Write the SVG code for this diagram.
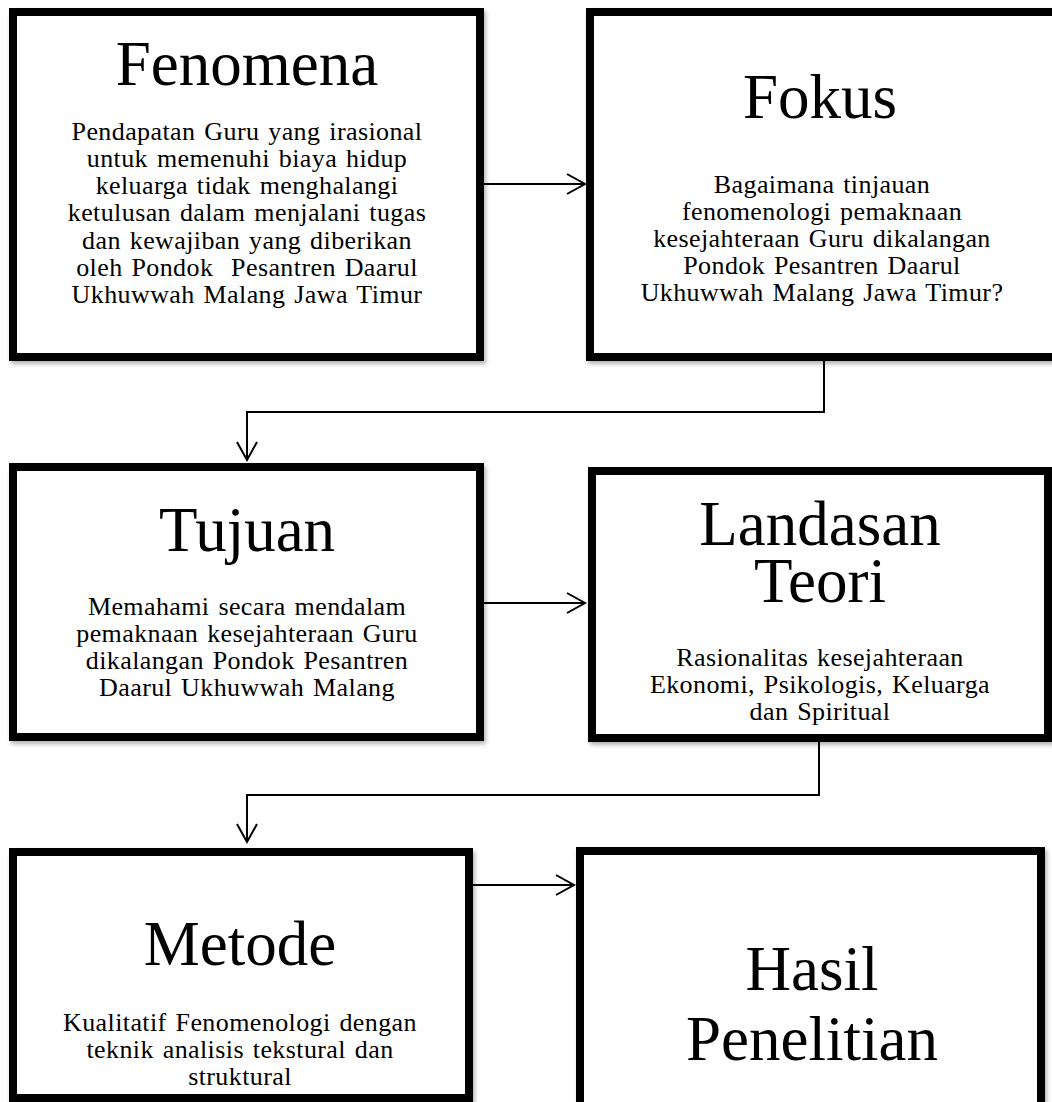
<svg xmlns="http://www.w3.org/2000/svg" width="1052" height="1102" viewBox="0 0 1052 1102">
<defs>
<filter id="sh" x="-5%" y="-5%" width="115%" height="115%">
<feDropShadow dx="2" dy="3" stdDeviation="2" flood-color="#000" flood-opacity="0.3"/>
</filter>
<marker id="ah" markerWidth="22" markerHeight="24" refX="19" refY="11" orient="auto" markerUnits="userSpaceOnUse">
<path d="M1,1 L19,11 L1,21" fill="none" stroke="#000" stroke-width="2"/>
</marker>
<style>
.box{fill:#fff;stroke:#000;stroke-width:8;filter:url(#sh)}
.t{font-family:"Liberation Serif","Times New Roman",serif;fill:#000;text-anchor:middle}
.h{font-size:63px}
.b{font-size:26px;letter-spacing:0.4px;word-spacing:2px}
.c{fill:none;stroke:#000;stroke-width:2}
</style>
</defs>
<rect width="1052" height="1102" fill="#fff"/>
<g id="fenomena">
<rect class="box" x="13" y="12" width="467" height="345"/>
<text class="t h" x="247" y="85">Fenomena</text>
<text class="t b" x="247" y="140">Pendapatan Guru yang irasional</text>
<text class="t b" x="247" y="167">untuk memenuhi biaya hidup</text>
<text class="t b" x="247" y="194">keluarga tidak menghalangi</text>
<text class="t b" x="247" y="221">ketulusan dalam menjalani tugas</text>
<text class="t b" x="247" y="249">dan kewajiban yang diberikan</text>
<text class="t b" x="247" y="276" xml:space="preserve">oleh Pondok  Pesantren Daarul</text>
<text class="t b" x="247" y="303">Ukhuwwah Malang Jawa Timur</text>
</g>
<g id="fokus">
<rect class="box" x="590" y="12" width="480" height="345"/>
<text class="t h" x="820" y="118">Fokus</text>
<text class="t b" x="822" y="193">Bagaimana tinjauan</text>
<text class="t b" x="822" y="220">fenomenologi pemaknaan</text>
<text class="t b" x="822" y="247">kesejahteraan Guru dikalangan</text>
<text class="t b" x="822" y="274">Pondok Pesantren Daarul</text>
<text class="t b" x="822" y="301">Ukhuwwah Malang Jawa Timur?</text>
</g>
<g id="tujuan">
<rect class="box" x="13" y="467" width="467" height="270"/>
<text class="t h" x="247" y="551">Tujuan</text>
<text class="t b" x="247" y="615">Memahami secara mendalam</text>
<text class="t b" x="247" y="642">pemaknaan kesejahteraan Guru</text>
<text class="t b" x="247" y="669">dikalangan Pondok Pesantren</text>
<text class="t b" x="247" y="696">Daarul Ukhuwwah Malang</text>
</g>
<g id="landasan">
<rect class="box" x="592" y="471" width="456" height="267"/>
<text class="t h" x="820" y="545"><tspan x="820" y="545">Landasan</tspan><tspan x="820" y="602">Teori</tspan></text>
<text class="t b" x="820" y="666">Rasionalitas kesejahteraan</text>
<text class="t b" x="820" y="693">Ekonomi, Psikologis, Keluarga</text>
<text class="t b" x="820" y="720">dan Spiritual</text>
</g>
<g id="metode">
<rect class="box" x="13" y="852" width="456" height="246"/>
<text class="t h" x="240" y="965">Metode</text>
<text class="t b" x="240" y="1031">Kualitatif Fenomenologi dengan</text>
<text class="t b" x="240" y="1058">teknik analisis tekstural dan</text>
<text class="t b" x="240" y="1085">struktural</text>
</g>
<g id="hasil">
<rect class="box" x="580" y="851" width="461" height="300"/>
<text class="t h" x="812" y="990"><tspan x="812" y="990">Hasil</tspan><tspan x="812" y="1060">Penelitian</tspan></text>
</g>
<g id="connectors">
<line class="c" x1="484" y1="184" x2="585" y2="184" marker-end="url(#ah)"/>
<polyline class="c" points="824,361 824,412 247,412 247,460" marker-end="url(#ah)"/>
<line class="c" x1="484" y1="603" x2="585" y2="603" marker-end="url(#ah)"/>
<polyline class="c" points="819,742 819,795 247,795 247,842" marker-end="url(#ah)"/>
<line class="c" x1="473" y1="885" x2="574" y2="885" marker-end="url(#ah)"/>
</g>
</svg>
